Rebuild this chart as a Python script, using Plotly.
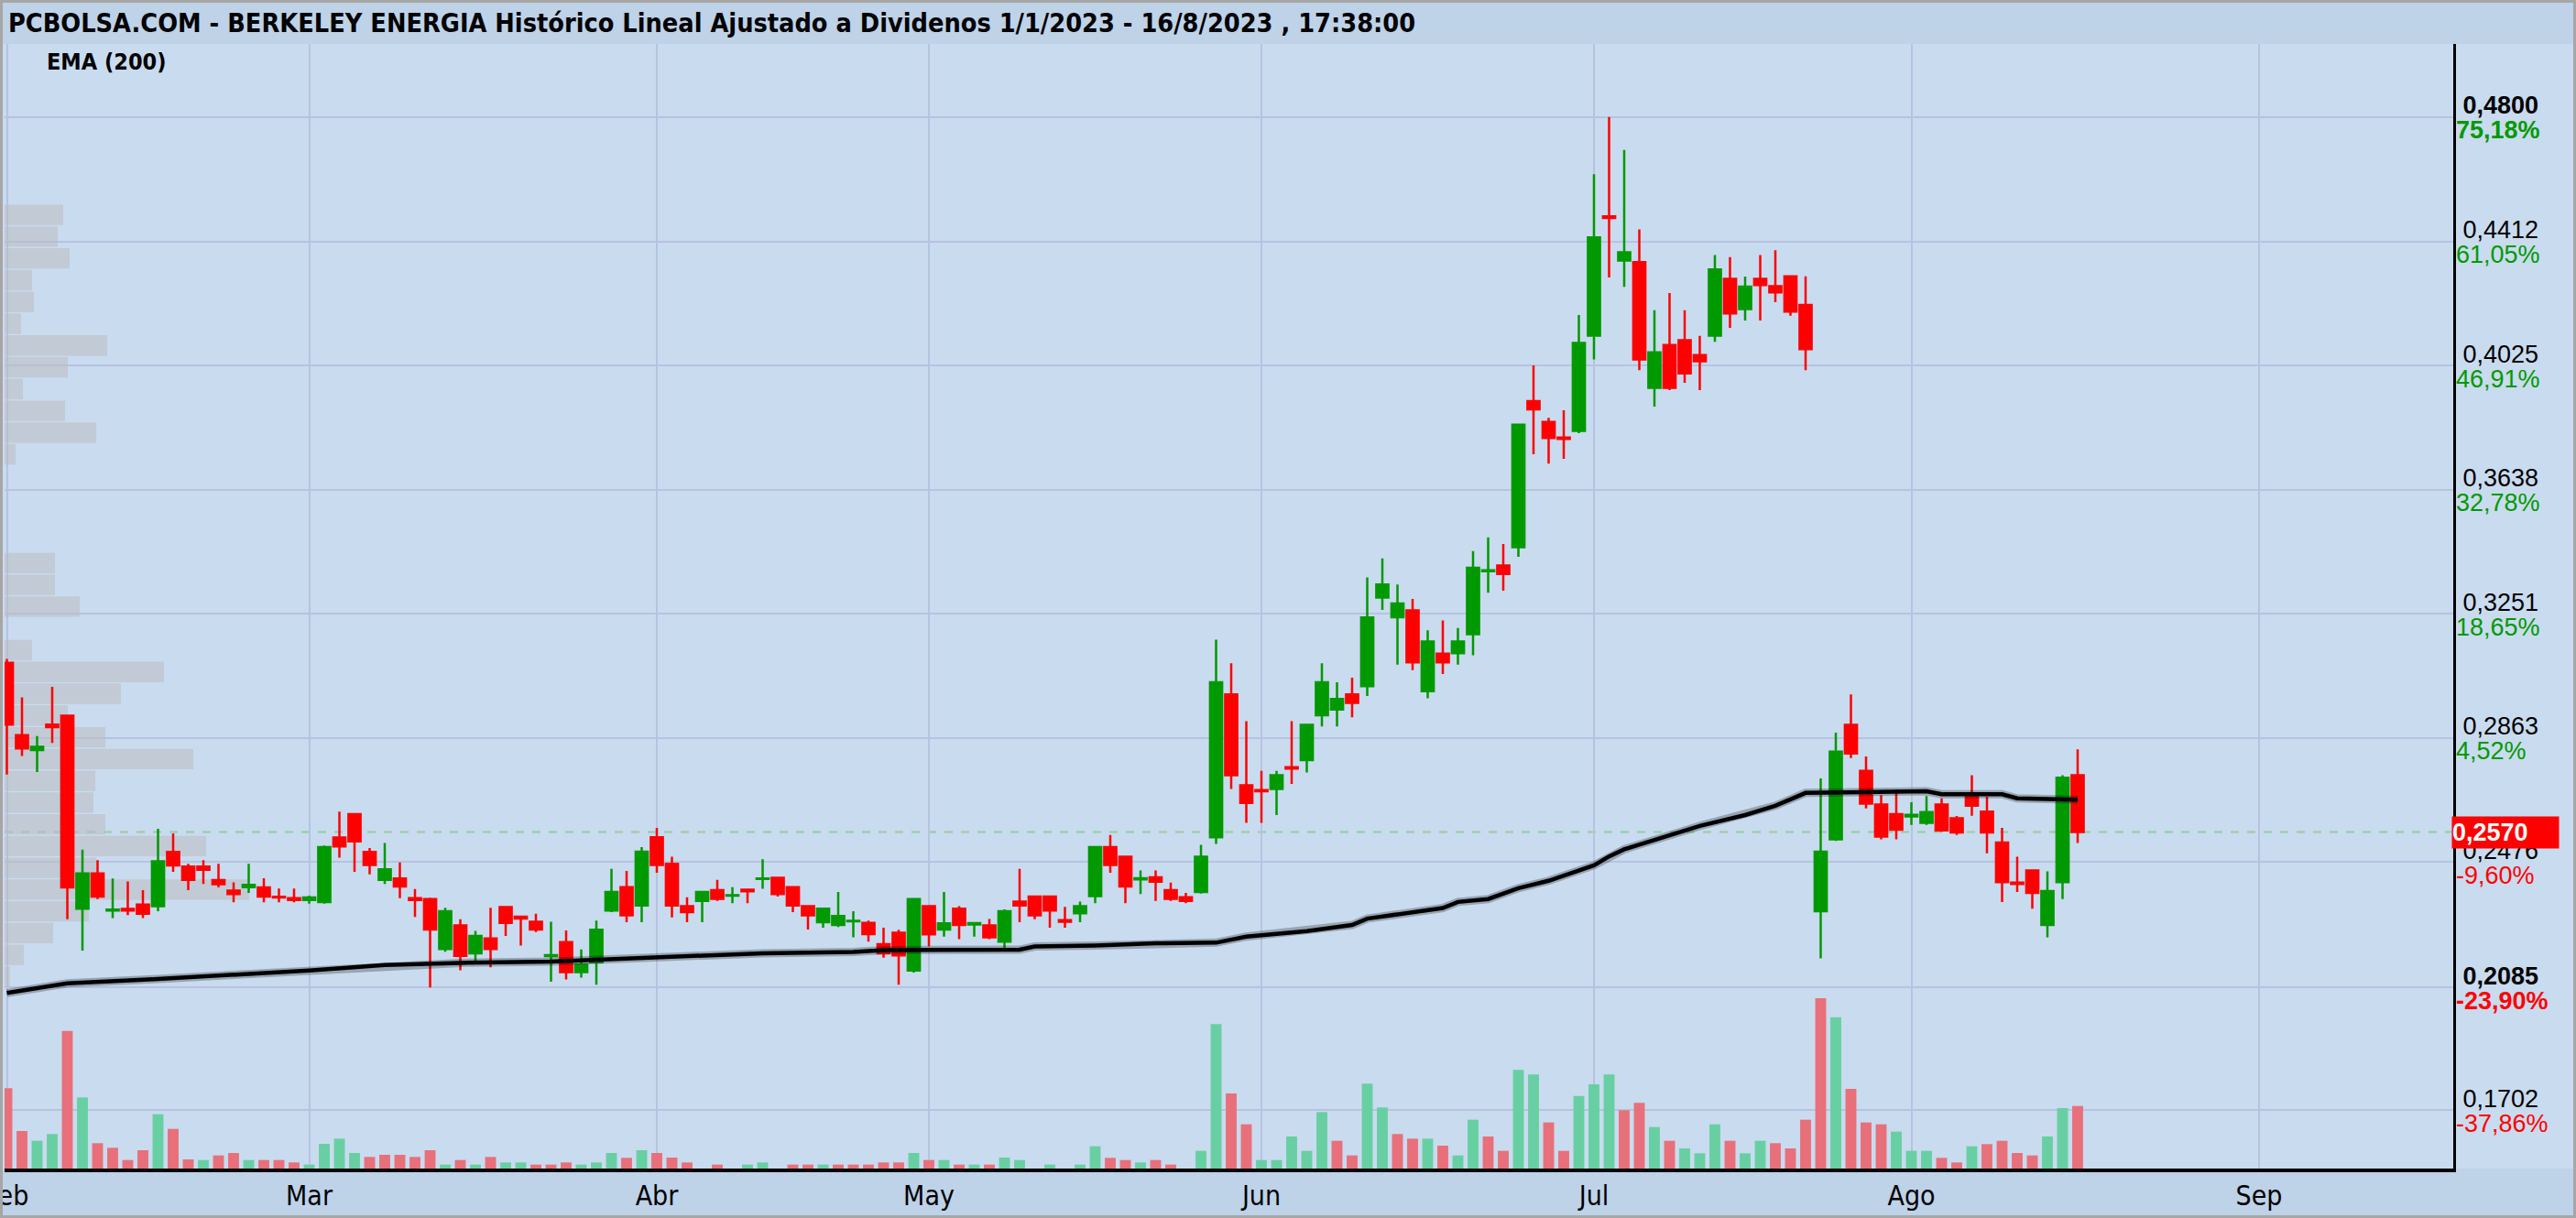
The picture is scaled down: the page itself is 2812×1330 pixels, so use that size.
import pandas as pd
import plotly.graph_objects as go

# ---------------- data ----------------
holidays = ["2023-04-07", "2023-04-10", "2023-05-01"]
trading_days = [d for d in pd.bdate_range("2023-02-01", "2023-09-29")
                if d.strftime("%Y-%m-%d") not in holidays]

month_names = ["Feb", "Mar", "Abr", "May", "Jun", "Jul", "Ago", "Sep"]

open_ = [0.3098, 0.2872, 0.2826, 0.2905, 0.2933, 0.2331, 0.2441, 0.2325, 0.2330, 0.2344,
         0.2339, 0.2508, 0.2462, 0.2462, 0.2420, 0.2387, 0.2398, 0.2397, 0.2368, 0.2364,
         0.2358, 0.2352, 0.2553, 0.2626, 0.2508, 0.2421, 0.2425, 0.2364, 0.2361, 0.2205,
         0.2279, 0.2192, 0.2238, 0.2336, 0.2306, 0.2290, 0.2183, 0.2227, 0.2133, 0.2164,
         0.2325, 0.2398, 0.2341, 0.2554, 0.2471, 0.2339, 0.2355, 0.2389, 0.2372, 0.2390,
         0.2424, 0.2427, 0.2398, 0.2339, 0.2289, 0.2280, 0.2292, 0.2287, 0.2220, 0.2256,
         0.2138, 0.2339, 0.2266, 0.2331, 0.2282, 0.2279, 0.2228, 0.2353, 0.2369, 0.2369,
         0.2295, 0.2317, 0.2370, 0.2523, 0.2493, 0.2422, 0.2429, 0.2389, 0.2367, 0.2383,
         0.2554, 0.2999, 0.2716, 0.2701, 0.2704, 0.2772, 0.2794, 0.2934, 0.2952, 0.2999,
         0.3025, 0.3301, 0.3240, 0.3261, 0.3009, 0.3126, 0.3128, 0.3187, 0.3383, 0.3401,
         0.3458, 0.3914, 0.3849, 0.3800, 0.3821, 0.4118, 0.4490, 0.4352, 0.4347, 0.3955,
         0.4089, 0.4104, 0.4057, 0.4118, 0.4295, 0.4201, 0.4295, 0.4272, 0.4303, 0.4214,
         0.2323, 0.2547, 0.2904, 0.2761, 0.2656, 0.2626, 0.2619, 0.2599, 0.2656, 0.2613,
         0.2680, 0.2634, 0.2537, 0.2412, 0.2450, 0.2280, 0.2414, 0.2747]
high = [0.3110, 0.2990, 0.2869, 0.3023, 0.2935, 0.2515, 0.2482, 0.2425, 0.2416, 0.2389,
        0.2580, 0.2566, 0.2471, 0.2482, 0.2471, 0.2413, 0.2471, 0.2426, 0.2394, 0.2394,
        0.2372, 0.2528, 0.2634, 0.2629, 0.2520, 0.2536, 0.2475, 0.2392, 0.2365, 0.2334,
        0.2298, 0.2262, 0.2334, 0.2336, 0.2306, 0.2315, 0.2290, 0.2263, 0.2204, 0.2294,
        0.2455, 0.2449, 0.2523, 0.2583, 0.2493, 0.2367, 0.2385, 0.2421, 0.2398, 0.2391,
        0.2485, 0.2429, 0.2400, 0.2341, 0.2333, 0.2383, 0.2323, 0.2294, 0.2272, 0.2265,
        0.2362, 0.2340, 0.2383, 0.2339, 0.2287, 0.2299, 0.2329, 0.2455, 0.2370, 0.2370,
        0.2337, 0.2353, 0.2524, 0.2561, 0.2495, 0.2450, 0.2450, 0.2412, 0.2380, 0.2530,
        0.3170, 0.3096, 0.2916, 0.2761, 0.2761, 0.2916, 0.2905, 0.3096, 0.3037, 0.3051,
        0.3364, 0.3423, 0.3342, 0.3297, 0.3199, 0.3230, 0.3206, 0.3446, 0.3489, 0.3468,
        0.3842, 0.4025, 0.3862, 0.3885, 0.4182, 0.4621, 0.4800, 0.4697, 0.4449, 0.4197,
        0.4251, 0.4197, 0.4117, 0.4369, 0.4363, 0.4302, 0.4369, 0.4384, 0.4305, 0.4303,
        0.2737, 0.2880, 0.2999, 0.2806, 0.2685, 0.2702, 0.2663, 0.2682, 0.2675, 0.2620,
        0.2747, 0.2680, 0.2583, 0.2493, 0.2452, 0.2447, 0.2747, 0.2828]
low = [0.2749, 0.2807, 0.2757, 0.2848, 0.2298, 0.2200, 0.2361, 0.2302, 0.2311, 0.2302,
       0.2323, 0.2446, 0.2389, 0.2408, 0.2397, 0.2351, 0.2380, 0.2351, 0.2351, 0.2351,
       0.2347, 0.2347, 0.2490, 0.2446, 0.2438, 0.2408, 0.2364, 0.2305, 0.2085, 0.2197,
       0.2139, 0.2159, 0.2148, 0.2246, 0.2216, 0.2258, 0.2103, 0.2110, 0.2116, 0.2094,
       0.2320, 0.2289, 0.2289, 0.2443, 0.2304, 0.2289, 0.2289, 0.2355, 0.2348, 0.2348,
       0.2393, 0.2369, 0.2320, 0.2266, 0.2272, 0.2274, 0.2242, 0.2228, 0.2178, 0.2094,
       0.2132, 0.2214, 0.2244, 0.2236, 0.2244, 0.2236, 0.2206, 0.2289, 0.2298, 0.2272,
       0.2272, 0.2289, 0.2348, 0.2443, 0.2348, 0.2377, 0.2355, 0.2355, 0.2348, 0.2378,
       0.2533, 0.2704, 0.2599, 0.2599, 0.2623, 0.2720, 0.2756, 0.2899, 0.2899, 0.2928,
       0.2994, 0.3263, 0.3092, 0.3075, 0.2987, 0.3063, 0.3092, 0.3121, 0.3316, 0.3323,
       0.3428, 0.3748, 0.3719, 0.3734, 0.3814, 0.4044, 0.4299, 0.4270, 0.4010, 0.3897,
       0.3948, 0.3971, 0.3948, 0.4099, 0.4142, 0.4165, 0.4165, 0.4222, 0.4180, 0.4010,
       0.2176, 0.2542, 0.2801, 0.2644, 0.2547, 0.2547, 0.2592, 0.2592, 0.2571, 0.2561,
       0.2621, 0.2504, 0.2352, 0.2383, 0.2331, 0.2242, 0.2361, 0.2536]
close = [0.2905, 0.2831, 0.2836, 0.2897, 0.2397, 0.2441, 0.2369, 0.2328, 0.2325, 0.2315,
         0.2479, 0.2466, 0.2421, 0.2452, 0.2407, 0.2377, 0.2405, 0.2369, 0.2366, 0.2358,
         0.2366, 0.2523, 0.2525, 0.2541, 0.2467, 0.2454, 0.2400, 0.2358, 0.2266, 0.2323,
         0.2184, 0.2246, 0.2205, 0.2287, 0.2300, 0.2266, 0.2186, 0.2133, 0.2157, 0.2265,
         0.2383, 0.2310, 0.2509, 0.2467, 0.2341, 0.2320, 0.2383, 0.2362, 0.2373, 0.2385,
         0.2425, 0.2377, 0.2341, 0.2310, 0.2331, 0.2308, 0.2293, 0.2252, 0.2192, 0.2185,
         0.2361, 0.2251, 0.2285, 0.2280, 0.2286, 0.2242, 0.2323, 0.2341, 0.2310, 0.2325,
         0.2290, 0.2339, 0.2523, 0.2467, 0.2400, 0.2426, 0.2415, 0.2362, 0.2355, 0.2493,
         0.3037, 0.2747, 0.2661, 0.2697, 0.2747, 0.2768, 0.2904, 0.3037, 0.2985, 0.2973,
         0.3239, 0.3342, 0.3283, 0.3099, 0.3164, 0.3099, 0.3164, 0.3394, 0.3386, 0.3375,
         0.3840, 0.3888, 0.3799, 0.3796, 0.4095, 0.4424, 0.4485, 0.4378, 0.4044, 0.4066,
         0.3955, 0.4000, 0.4038, 0.4324, 0.4187, 0.4271, 0.4276, 0.4253, 0.4193, 0.4076,
         0.2509, 0.2821, 0.2815, 0.2659, 0.2556, 0.2577, 0.2624, 0.2632, 0.2575, 0.2569,
         0.2652, 0.2569, 0.2414, 0.2408, 0.2380, 0.2386, 0.2739, 0.2570]
volume = [263, 123, 91, 113, 451, 233, 83, 68, 28, 60,
          178, 130, 30, 28, 43, 51, 28, 28, 28, 20,
          13, 81, 98, 51, 38, 45, 45, 38, 60, 13,
          28, 13, 38, 20, 20, 13, 13, 20, 13, 20,
          51, 35, 60, 51, 36, 20, 0, 13, 0, 13,
          20, 0, 13, 13, 13, 13, 13, 13, 20, 20,
          51, 28, 28, 13, 13, 13, 36, 28, 0, 13,
          0, 13, 73, 35, 28, 20, 28, 13, 0, 58,
          473, 246, 145, 28, 28, 105, 58, 185, 91, 43,
          278, 200, 113, 98, 98, 75, 43, 160, 105, 58,
          323, 308, 151, 58, 238, 276, 308, 191, 215, 136,
          91, 66, 50, 145, 91, 50, 91, 83, 66, 160,
          558, 496, 261, 151, 145, 121, 58, 58, 35, 20,
          73, 80, 91, 51, 43, 105, 198, 205]

# EMA(200) at these trading-day positions
ema_pos = [0, 4, 10, 20, 25, 30, 36, 42, 46, 50, 56, 58, 67, 68, 72, 76, 80, 82, 86, 89,
           90, 95, 96, 98, 100, 102, 105, 106, 107, 112, 115, 117, 119, 127, 128, 132, 133, 137]
ema_val = [0.2068, 0.2098, 0.2112, 0.2138, 0.2155, 0.2162, 0.2166, 0.2178, 0.2186, 0.2192,
           0.2196, 0.2202, 0.2203, 0.2213, 0.2216, 0.2223, 0.2225, 0.2244, 0.2261, 0.2280,
           0.2300, 0.2333, 0.2352, 0.2361, 0.2395, 0.2418, 0.2466, 0.2494, 0.2516, 0.2589,
           0.2623, 0.2652, 0.2692, 0.2697, 0.2688, 0.2688, 0.2675, 0.2671]

# volume-by-price profile: 40 bins from 0.2085 to 0.4800 (bottom to top)
profile_low, profile_high = 0.2085, 0.4800
profile_vol = [6, 21, 53, 92, 267, 100, 220, 110, 97, 99,
               206, 110, 69, 127, 174, 30, 0, 82, 55, 55,
               0, 0, 0, 0, 12, 100, 66, 20, 69, 112,
               18, 32, 30, 71, 58, 64, 0, 0, 0, 0]

# right-axis labels
tick_prices = [0.4800, 0.4412, 0.4025, 0.3638, 0.3251, 0.2863, 0.2476, 0.2085, 0.1702]
tick_price_txt = ["0,4800", "0,4412", "0,4025", "0,3638", "0,3251", "0,2863", "0,2476", "0,2085", "0,1702"]
tick_pct_txt = ["75,18%", "61,05%", "46,91%", "32,78%", "18,65%", "4,52%", "-9,60%", "-23,90%", "-37,86%"]
bold_ticks = ["0,4800", "0,2085"]
last_price = 0.2570
last_price_txt = "0,2570"

title_txt = ("PCBOLSA.COM - BERKELEY ENERGIA Histórico Lineal Ajustado a Dividenos "
             "1/1/2023 - 16/8/2023 , 17:38:00")

# ---------------- figure ----------------
W, H = 2812, 1330
ML, MR, MT, MB = 5, 134, 48, 54
plot_w = W - ML - MR
plot_h = H - MT - MB
px_per_day = 16.5
x0 = -2.5 / px_per_day
x1 = x0 + plot_w / px_per_day
y_lo, y_hi = 0.15206, 0.50276

NARROW = "Liberation Sans Narrow, Arial Narrow, DejaVu Sans Condensed, sans-serif"
ARIAL = "Liberation Sans, Arial, sans-serif"
GREEN, RED = "#009900", "#FF0000"
BG = "#C9DBEF"
BAND = "#BED2E8"
GRID = "#B6C3E0"

n = len(close)
xs = list(range(n))

month_pos, seen = [], set()
for i, d in enumerate(trading_days):
    if d.month not in seen:
        seen.add(d.month)
        month_pos.append(i)

fig = go.Figure()

bin_h = (profile_high - profile_low) / len(profile_vol)
prof_scale = 1.0 / px_per_day
fig.add_trace(go.Bar(
    orientation="h",
    y=[profile_low + (k + 0.5) * bin_h for k in range(len(profile_vol))],
    x=[v * prof_scale for v in profile_vol],
    base=x0,
    width=bin_h * 0.94,
    marker=dict(color="rgba(185,188,192,0.55)", line=dict(width=0)),
    hoverinfo="skip", showlegend=False,
))

fig.add_trace(go.Candlestick(
    x=xs, open=open_, high=high, low=low, close=close,
    increasing=dict(line=dict(color=GREEN, width=2.5), fillcolor=GREEN),
    decreasing=dict(line=dict(color=RED, width=2.5), fillcolor=RED),
    whiskerwidth=0, showlegend=False, hoverinfo="skip",
))

fig.add_trace(go.Scatter(x=ema_pos, y=ema_val, mode="lines",
                         line=dict(color="rgba(0,0,0,0.25)", width=9),
                         hoverinfo="skip", showlegend=False))
fig.add_trace(go.Scatter(x=ema_pos, y=ema_val, mode="lines",
                         line=dict(color="#000000", width=4.5),
                         hoverinfo="skip", showlegend=False))

vol_colors = []
for i in range(n):
    up = close[i] >= (close[i - 1] if i > 0 else open_[i])
    vol_colors.append("#68CFA3" if up else "#E8707A")
fig.add_trace(go.Bar(x=xs, y=volume, yaxis="y2", width=0.72,
                     marker=dict(color=vol_colors, line=dict(width=0)),
                     hoverinfo="skip", showlegend=False))

# invisible trace to carry the percentage axis
fig.add_trace(go.Scatter(x=[x0], y=[y_lo], yaxis="y3", mode="markers",
                         marker=dict(opacity=0), hoverinfo="skip", showlegend=False))

val_text = [f"<b>{p}</b>" if p in bold_ticks else p for p in tick_price_txt]
pct_text = []
for p, pc in zip(tick_price_txt, tick_pct_txt):
    col = "#009900" if not pc.startswith("-") else "#FF0000"
    t = f"<b>{pc}</b>" if p in bold_ticks else pc
    pct_text.append(f"<span style='color:{col}'>{t}</span>")


def px_to_paper_x(px):
    return (px - ML) / plot_w


def py_to_paper_y(py):
    return (H - MB - py) / plot_h


shapes = [
    dict(type="rect", xref="paper", yref="paper",
         x0=px_to_paper_x(0), x1=px_to_paper_x(W), y0=py_to_paper_y(MT), y1=py_to_paper_y(0),
         fillcolor=BAND, line=dict(width=0), layer="below"),
    dict(type="rect", xref="paper", yref="paper",
         x0=px_to_paper_x(0), x1=px_to_paper_x(W), y0=py_to_paper_y(H), y1=py_to_paper_y(H - MB),
         fillcolor=BAND, line=dict(width=0), layer="below"),
    dict(type="line", xref="paper", yref="y", x0=0, x1=1, y0=last_price, y1=last_price,
         line=dict(color="rgba(140,205,150,0.9)", width=2, dash="dash"), layer="between"),
    dict(type="rect", xref="paper", yref="paper",
         x0=px_to_paper_x(1.5), x1=px_to_paper_x(W - 1.5), y0=py_to_paper_y(H - 1.5), y1=py_to_paper_y(1.5),
         line=dict(color="#A6A6A6", width=3), fillcolor="rgba(0,0,0,0)", layer="above"),
]

annotations = [
    dict(text=f"<b>{title_txt}</b>", xref="paper", yref="paper",
         x=px_to_paper_x(7), y=py_to_paper_y(25), xanchor="left", yanchor="middle",
         showarrow=False, font=dict(family=NARROW, size=28.6, color="#000000")),
    dict(text="<b>EMA (200)</b>", xref="paper", yref="paper",
         x=px_to_paper_x(49), y=py_to_paper_y(67), xanchor="left", yanchor="middle",
         showarrow=False, font=dict(family=NARROW, size=25, color="#000000")),
    dict(text=f"<b>{last_price_txt}</b>", xref="paper", yref="y",
         x=1, y=last_price, xanchor="left", yanchor="middle", xshift=-2,
         showarrow=False, bgcolor="#FF0000", width=116, height=34, align="left",
         borderpad=0, font=dict(family=ARIAL, size=27, color="#FFFFFF")),
]

fig.update_layout(
    width=W, height=H,
    margin=dict(l=ML, r=MR, t=MT, b=MB, pad=0, autoexpand=False),
    paper_bgcolor=BG, plot_bgcolor=BG,
    barmode="overlay", boxgap=0.2, boxgroupgap=0,
    showlegend=False,
    xaxis=dict(range=[x0, x1], tickvals=month_pos, ticktext=month_names,
               showgrid=True, gridcolor=GRID, gridwidth=2, zeroline=False,
               showline=True, linecolor="#000000", linewidth=4, ticks="",
               ticklabeloverflow="allow", automargin=False,
               tickfont=dict(family=NARROW, size=30, color="#000000"),
               rangeslider=dict(visible=False), fixedrange=True),
    yaxis=dict(range=[y_lo, y_hi], side="right", tickvals=tick_prices, ticktext=val_text,
               showgrid=True, gridcolor=GRID, gridwidth=2, zeroline=False,
               showline=True, linecolor="#000000", linewidth=3, ticks="",
               ticklabelshift=-13, ticklabelstandoff=2, automargin=False,
               tickfont=dict(family=ARIAL, size=27, color="#000000"), fixedrange=True),
    yaxis2=dict(range=[0, plot_h * 3], overlaying="y", side="left", visible=False,
                showgrid=False, zeroline=False, fixedrange=True, automargin=False),
    yaxis3=dict(range=[y_lo, y_hi], overlaying="y", side="right", tickvals=tick_prices,
                ticktext=pct_text, showgrid=False, zeroline=False, showline=False, ticks="",
                ticklabelshift=14, ticklabelstandoff=2, automargin=False,
                tickfont=dict(family=ARIAL, size=27, color="#000000"), fixedrange=True),
    shapes=shapes, annotations=annotations,
)

fig.write_html("out.html",
               config={"displayModeBar": False},
               post_script="document.body.style.margin='0px';document.body.style.overflow='hidden';")
